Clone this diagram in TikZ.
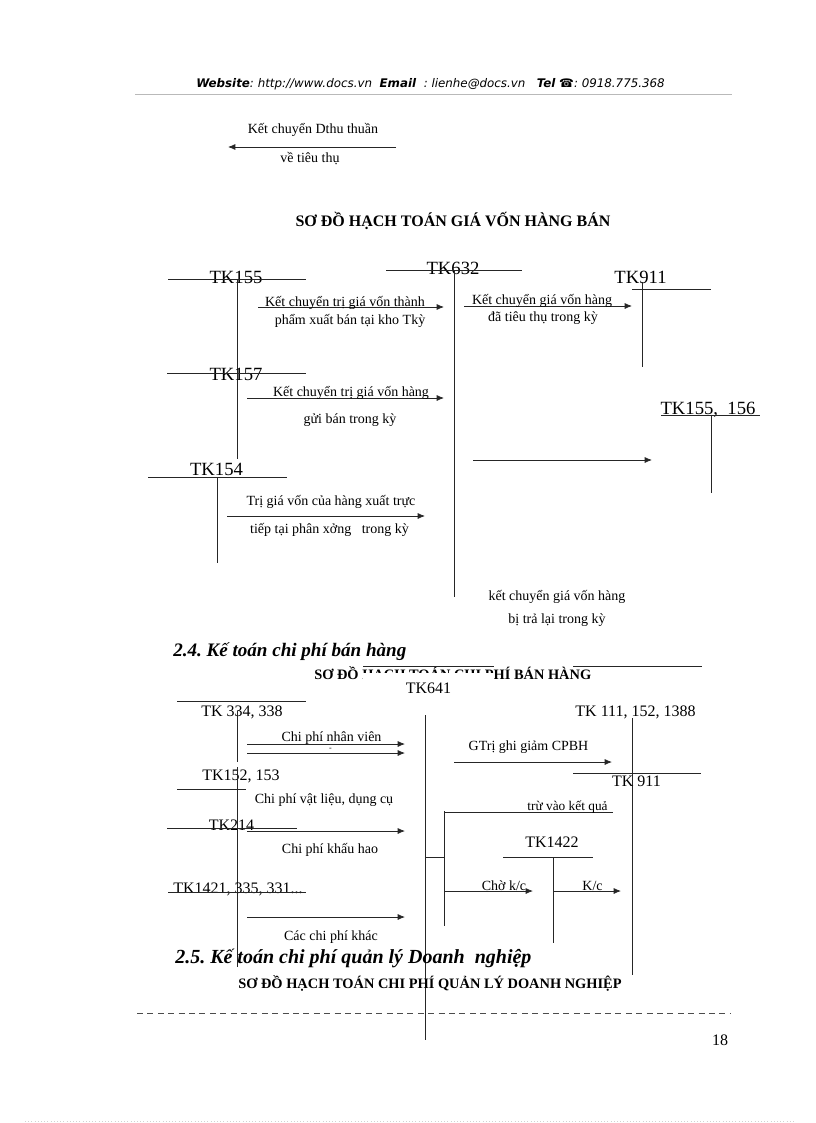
\documentclass[tikz,border=0pt]{standalone}
\usepackage{fontspec}
\setmainfont{Liberation Serif}
\newfontfamily\hdrfont{DejaVu Sans}
\usetikzlibrary{arrows.meta}
\frenchspacing
\tikzset{
  ln/.style={draw=black!85, line width=0.6pt},
  arr/.style={ln, -{Latex[length=5.5pt,width=4.5pt]}},
  lbl/.style={font=\fontsize{10.5}{12}\selectfont, inner sep=0pt, anchor=base},
  tkbig/.style={font=\fontsize{14}{16}\selectfont, inner sep=0pt, anchor=base},
  tk/.style={font=\fontsize{12}{14}\selectfont, inner sep=0pt, anchor=base},
  ttl/.style={font=\bfseries\fontsize{12}{14}\selectfont, inner sep=0pt, anchor=base},
  ttls/.style={font=\bfseries\fontsize{10.8}{12}\selectfont, inner sep=0pt, anchor=base west},
  hd/.style={font=\bfseries\itshape\fontsize{14.3}{16}\selectfont, inner sep=0pt, anchor=base west},
}
\begin{document}
\begin{tikzpicture}[x=0.75pt,y=-0.75pt]
\useasboundingbox (0,0) rectangle (816,1123);
\fill[white] (0,0) rectangle (816,1123);

% ---------- header ----------
\node[font=\hdrfont\itshape\fontsize{8.9}{10}\selectfont, inner sep=0pt, anchor=base west, text=black] (hdr) at (196,88)
  {\textbf{Website}: http://www.docs.vn\ \ \textbf{Email}\ \ : lienhe@docs.vn\ \ \ \textbf{Tel} ☎: 0918.775.368};
\coordinate (hl1) at (135,94); \coordinate (hl2) at (732,94);
\draw[gray!55, line width=0.5pt] (hl1) -- (hl2);

% ---------- top fragment ----------
\node[lbl] (dthu) at (313,134) {Kết chuyển Dthu thuần};
\coordinate (dthuA) at (396,147); \coordinate (dthuB) at (228,147);
\draw[arr] (dthuA) -- (dthuB);
\node[lbl] (dthu2) at (310,163) {về tiêu thụ};

% ---------- diagram 1 ----------
\node[ttl] (title1) at (453,226.5) {SƠ ĐỒ HẠCH TOÁN GIÁ VỐN HÀNG BÁN};

% TK155
\node[tkbig] (tk155) at (236,283) {TK155};
\coordinate (h155a) at (168,279); \coordinate (h155b) at (306,279);
\coordinate (v155a) at (237,280); \coordinate (v155b) at (237,459);
\draw[ln] (h155a) -- (h155b);
\draw[ln] (v155a) -- (v155b);

% TK632
\node[tkbig] (tk632) at (453,274) {TK632};
\coordinate (h632a) at (386,270); \coordinate (h632b) at (522,270);
\coordinate (v632a) at (454,270); \coordinate (v632b) at (454,597);
\draw[ln] (h632a) -- (h632b);
\draw[ln] (v632a) -- (v632b);

% TK911 (top)
\node[tkbig] (tk911a) at (640.5,283) {TK911};
\coordinate (h911a) at (632,289); \coordinate (h911b) at (711,289);
\coordinate (v911a) at (642,282); \coordinate (v911b) at (642,367);
\draw[ln] (h911a) -- (h911b);
\draw[ln] (v911a) -- (v911b);

% arrow 155 -> 632
\coordinate (a1s) at (258,307); \coordinate (a1e) at (444,307);
\draw[arr] (a1s) -- (a1e);
\node[lbl] (a1t1) at (345,306) {Kết chuyển trị giá vốn thành};
\node[lbl] (a1t2) at (350,324) {phẩm xuất bán tại kho Tkỳ};

% arrow 632 -> 911
\coordinate (a2s) at (464,306); \coordinate (a2e) at (632,306);
\draw[arr] (a2s) -- (a2e);
\node[lbl] (a2t1) at (542,304) {Kết chuyển giá vốn hàng};
\node[lbl] (a2t2) at (543,321.5) {đã tiêu thụ trong kỳ};

% TK157
\node[tkbig] (tk157) at (236,380) {TK157};
\coordinate (h157a) at (167,373); \coordinate (h157b) at (306,373);
\draw[ln] (h157a) -- (h157b);
\coordinate (a3s) at (247,398); \coordinate (a3e) at (444,398);
\draw[arr] (a3s) -- (a3e);
\node[lbl] (a3t1) at (351,396.5) {Kết chuyển trị giá vốn hàng};
\node[lbl] (a3t2) at (350,423) {gửi bán trong kỳ};

% TK155,156
\node[tkbig] (tk155b) at (708,414) {TK155,\ \ 156};
\coordinate (h1556a) at (661,415.5); \coordinate (h1556b) at (760,415.5);
\coordinate (v1556a) at (711,415.5); \coordinate (v1556b) at (711,493);
\draw[ln] (h1556a) -- (h1556b);
\draw[ln] (v1556a) -- (v1556b);
\coordinate (a5s) at (473,460); \coordinate (a5e) at (652,460);
\draw[arr] (a5s) -- (a5e);

% TK154
\node[tkbig] (tk154) at (216.5,475) {TK154};
\coordinate (h154a) at (148,477); \coordinate (h154b) at (287,477);
\coordinate (v154a) at (217,477); \coordinate (v154b) at (217,563);
\draw[ln] (h154a) -- (h154b);
\draw[ln] (v154a) -- (v154b);
\coordinate (a4s) at (227,516); \coordinate (a4e) at (425,516);
\draw[arr] (a4s) -- (a4e);
\node[lbl] (a4t1) at (331,505) {Trị giá vốn của hàng xuất trực};
\node[lbl] (a4t2) at (329.5,533) {tiếp tại phân xởng\ \ \ trong kỳ};

\node[lbl] (rt1) at (557,600) {kết chuyển giá vốn hàng};
\node[lbl] (rt2) at (557,623) {bị trả lại trong kỳ};

% ---------- section 2.4 ----------
\node[hd] (h24) at (173,656) {2.4. Kế toán chi phí bán hàng};
\node[ttls] (title2) at (314,679) {SƠ ĐỒ HẠCH TOÁN CHI PHÍ BÁN HÀNG};
\fill[white] (363,673.3) rectangle (494,686);
\coordinate (t2l1) at (363,666); \coordinate (t2l2) at (494,666);
\coordinate (t2l3) at (573,666); \coordinate (t2l4) at (702,666);
\draw[ln] (t2l1) -- (t2l2);
\draw[ln] (t2l3) -- (t2l4);
\node[tk] (tk641) at (428.5,693) {TK641};
\coordinate (v641a) at (425,715); \coordinate (v641b) at (425,1040);
\draw[ln] (v641a) -- (v641b);

% TK334,338
\coordinate (h334a) at (177,701); \coordinate (h334b) at (306,701);
\draw[ln] (h334a) -- (h334b);
\node[tk] (tk334) at (242,716) {TK 334, 338};
\coordinate (v334a) at (237,711); \coordinate (v334b) at (237,762);
\draw[ln] (v334a) -- (v334b);
\coordinate (b1s) at (247,744); \coordinate (b1e) at (405,744);
\coordinate (b2s) at (247,753); \coordinate (b2e) at (405,753);
\draw[arr] (b1s) -- (b1e);
\draw[arr] (b2s) -- (b2e);
\node[lbl] (b1t) at (331.5,741.5) {Chi phí nhân viên};
\node[font=\fontsize{6}{7}\selectfont, inner sep=0pt] (b1d) at (330.5,749) {-};

% TK152,153
\node[tk] (tk152) at (241,780) {TK152,\ 153};
\coordinate (h152a) at (177,789); \coordinate (h152b) at (246,789);
\coordinate (v152a) at (237,767); \coordinate (v152b) at (237,967);
\draw[ln] (h152a) -- (h152b);
\draw[ln] (v152a) -- (v152b);
\node[lbl] (b3t) at (324,803) {Chi phí vật liệu, dụng cụ};

% TK214
\node[tk] (tk214) at (231.5,830) {TK214};
\coordinate (h214a) at (167,828); \coordinate (h214b) at (297,828);
\draw[ln] (h214a) -- (h214b);
\coordinate (b4s) at (247,831); \coordinate (b4e) at (405,831);
\draw[arr] (b4s) -- (b4e);
\node[lbl] (b4t) at (330,853) {Chi phí khấu hao};

% TK1421...
\node[tk] (tk1421) at (238,893) {TK1421, 335, 331...};
\coordinate (h1421a) at (168,892); \coordinate (h1421b) at (306,892);
\draw[ln] (h1421a) -- (h1421b);
\coordinate (b5s) at (247,917); \coordinate (b5e) at (405,917);
\draw[arr] (b5s) -- (b5e);
\node[lbl] (b5t) at (331,940) {Các chi phí khác};

% right side TK111 / TK911
\node[tk] (tk111) at (635.5,716) {TK 111, 152, 1388};
\coordinate (v111a) at (632,718); \coordinate (v111b) at (632,975);
\draw[ln] (v111a) -- (v111b);
\coordinate (c1s) at (454,762); \coordinate (c1e) at (612,762);
\draw[arr] (c1s) -- (c1e);
\node[lbl] (c1t) at (528.5,750) {GTrị ghi giảm CPBH};
\coordinate (h911c) at (573,773); \coordinate (h911d) at (701,773);
\draw[ln] (h911c) -- (h911d);
\node[tk] (tk911b) at (636.5,786.5) {TK 911};

% bracket from TK641
\coordinate (k0) at (425,857); \coordinate (k1) at (444,857);
\draw[ln] (k0) -- (k1);
\coordinate (k2) at (444,811); \coordinate (k3) at (444,926);
\draw[ln] (k2) -- (k3);
\coordinate (k4) at (444,812); \coordinate (k5) at (613,812);
\draw[ln] (k4) -- (k5);
\node[lbl, font=\fontsize{10}{12}\selectfont] (k5t) at (567.5,810.5) {trừ vào kết quả};
\coordinate (k6) at (444,891); \coordinate (k7) at (533,891);
\draw[arr] (k6) -- (k7);
\node[lbl] (k6t) at (504,890) {Chờ k/c};

% TK1422
\node[tk] (tk1422) at (552,847) {TK1422};
\coordinate (h1422a) at (503,857); \coordinate (h1422b) at (593,857);
\coordinate (v1422a) at (553,857); \coordinate (v1422b) at (553,943);
\draw[ln] (h1422a) -- (h1422b);
\draw[ln] (v1422a) -- (v1422b);
\coordinate (k8) at (553,891); \coordinate (k9) at (621,891);
\draw[arr] (k8) -- (k9);
\node[lbl] (k8t) at (592.5,890) {K/c};

% ---------- section 2.5 ----------
\node[hd, font=\bfseries\itshape\fontsize{15}{17}\selectfont] (h25) at (175,963) {2.5. Kế toán chi phí quản lý Doanh\ \ nghiệp};
\node[ttls] (title3) at (238,988) {SƠ ĐỒ HẠCH TOÁN CHI PHÍ QUẢN LÝ DOANH NGHIỆP};

% ---------- footer ----------
\coordinate (fl1) at (137,1013); \coordinate (fl2) at (730,1013);
\draw[black!70, line width=0.6pt, dash pattern=on 4.5pt off 3.3pt] (fl1) -- (fl2);
\node[tk] (pg) at (720,1045.5) {18};
\coordinate (bl1) at (25,1121); \coordinate (bl2) at (795,1121);
\draw[gray!35, line width=0.4pt, dotted] (bl1) -- (bl2);
\end{tikzpicture}
\end{document}
